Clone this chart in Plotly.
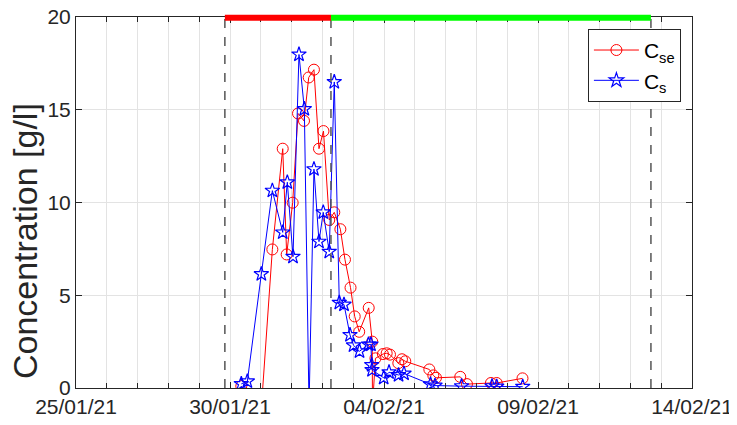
import plotly.graph_objects as go

# ---- data ----
cs_time = ["2021-01-30 08:48", "2021-01-30 13:30", "2021-01-31 00:25", "2021-01-31 09:00",
           "2021-01-31 17:05", "2021-01-31 20:40", "2021-02-01 01:05", "2021-02-01 05:45",
           "2021-02-01 09:55", "2021-02-01 13:35", "2021-02-01 17:25", "2021-02-01 21:20",
           "2021-02-02 00:40", "2021-02-02 05:20", "2021-02-02 09:15", "2021-02-02 13:10",
           "2021-02-02 16:50", "2021-02-02 21:30", "2021-02-03 00:15", "2021-02-03 04:55",
           "2021-02-03 11:55", "2021-02-03 13:50", "2021-02-03 14:25", "2021-02-03 14:40",
           "2021-02-03 23:45", "2021-02-04 03:55", "2021-02-04 11:20", "2021-02-04 15:35",
           "2021-02-05 12:15", "2021-02-05 15:45", "2021-02-06 12:25", "2021-02-07 12:10",
           "2021-02-07 15:50", "2021-02-08 12:05"]
cs_val = [0.22, 0.36, 6.14, 10.64, 8.39, 11.09, 7.08, 17.98, 15.04, -1.0, 11.8, 7.89,
          9.47, 7.35, 16.5, 4.6, 4.5, 2.86, 2.3, 1.98, 2.35, 2.35, 1.24, 0.97,
          0.55, 0.85, 0.7, 0.78, 0.2, 0.13, 0.1, 0.1, 0.08, 0.07]

cse_time = ["2021-01-30 08:48", "2021-01-31 00:30", "2021-01-31 09:00", "2021-01-31 17:05",
            "2021-01-31 20:10", "2021-02-01 00:50", "2021-02-01 05:00", "2021-02-01 09:40",
            "2021-02-01 13:20", "2021-02-01 17:25", "2021-02-01 21:20", "2021-02-02 00:50",
            "2021-02-02 05:20", "2021-02-02 09:15", "2021-02-02 14:00", "2021-02-02 17:35",
            "2021-02-02 21:55", "2021-02-03 01:10", "2021-02-03 04:40", "2021-02-03 12:05",
            "2021-02-03 14:50", "2021-02-03 15:00", "2021-02-03 17:20", "2021-02-03 23:10",
            "2021-02-04 02:05", "2021-02-04 04:40", "2021-02-04 11:10", "2021-02-04 14:00",
            "2021-02-04 16:35", "2021-02-05 11:20", "2021-02-05 14:25", "2021-02-05 16:30",
            "2021-02-06 11:25", "2021-02-06 16:40", "2021-02-07 11:20", "2021-02-07 15:50",
            "2021-02-08 11:55"]
cse_val = [0.1, -1.0, 7.47, 12.9, 7.2, 9.99, 14.8, 14.4, 16.74, 17.16, 12.9, 13.85,
           9.06, 9.47, 8.56, 6.92, 5.41, 3.86, 3.03, 4.32, 2.5, -1.0, 1.6, 1.83,
           1.87, 1.8, 1.34, 1.55, 1.44, 1.0, 0.68, 0.55, 0.6, 0.21, 0.27, 0.27,
           0.52]

phase_bounds = ["2021-01-29 20:00", "2021-02-02 06:40", "2021-02-12 16:00"]
phase_colors = ["#ff0000", "#00ff00"]

x_ticks = ["2021-01-25", "2021-01-30", "2021-02-04", "2021-02-09", "2021-02-14"]
x_ticklabels = ["25/01/21", "30/01/21", "04/02/21", "09/02/21", "14/02/21"]
y_ticks = [0, 5, 10, 15, 20]

FONT = "Liberation Sans, Arial, sans-serif"
TXT = "#262626"

fig = go.Figure()
fig.add_trace(go.Scatter(
    x=cse_time, y=cse_val, mode="lines+markers", name="C<sub>se</sub>",
    line=dict(color="#ff0000", width=1),
    marker=dict(symbol="circle-open", size=11, color="#ff0000", line=dict(width=1)),
))
fig.add_trace(go.Scatter(
    x=cs_time, y=cs_val, mode="lines+markers", name="C<sub>s</sub>",
    line=dict(color="#0000ff", width=1),
    marker=dict(symbol="star-open", size=11, color="#0000ff", line=dict(width=1.2)),
))

shapes = []
for b in phase_bounds:
    shapes.append(dict(type="line", xref="x", yref="paper", x0=b, x1=b, y0=0, y1=1,
                       line=dict(color="#555555", width=1.5, dash="dash"), layer="above"))
for i, c in enumerate(phase_colors):
    shapes.append(dict(type="line", xref="x", yref="paper", x0=phase_bounds[i], x1=phase_bounds[i + 1],
                       y0=0.998, y1=0.998, line=dict(color=c, width=6), layer="above"))

fig.update_layout(
    width=729, height=417,
    paper_bgcolor="white", plot_bgcolor="white",
    margin=dict(l=68, r=45, t=9, b=37, autoexpand=False),
    font=dict(family=FONT, color=TXT, size=21),
    shapes=shapes,
    showlegend=True,
    legend=dict(x=0.982, y=0.968, xanchor="right", yanchor="top",
                bgcolor="white", bordercolor="#262626", borderwidth=1,
                font=dict(size=21, color="black"), itemwidth=45,
                tracegroupgap=2),
    annotations=[dict(text="Concentration [g/l]", xref="paper", yref="paper",
                      x=(25 - 76) / 616, y=0.396, xanchor="center", yanchor="middle",
                      textangle=-90, showarrow=False,
                      font=dict(size=34, color=TXT, family=FONT))],
    xaxis=dict(
        type="date", range=["2021-01-25", "2021-02-14"], automargin=False,
        tickmode="array", tickvals=x_ticks, ticktext=x_ticklabels,
        ticklabeloverflow="allow",
        ticks="inside", ticklen=6, tickcolor=TXT, tickfont=dict(size=21, color=TXT),
        showline=True, linecolor=TXT, linewidth=1, mirror="allticks",
        showgrid=True, gridcolor="#e3e3e3", gridwidth=1, zeroline=False,
        minor=dict(dtick=86400000, ticks="inside", ticklen=5, tickcolor=TXT,
                   showgrid=True, gridcolor="#e3e3e3", gridwidth=1),
    ),
    yaxis=dict(
        range=[0, 20], tickmode="array", tickvals=y_ticks, automargin=False,
        ticklabeloverflow="allow",
        ticks="inside", ticklen=6, tickcolor=TXT, tickfont=dict(size=21, color=TXT),
        showline=True, linecolor=TXT, linewidth=1, mirror="allticks",
        showgrid=True, gridcolor="#e3e3e3", gridwidth=1, zeroline=False,
    ),
)

fig.write_html("out.html")
